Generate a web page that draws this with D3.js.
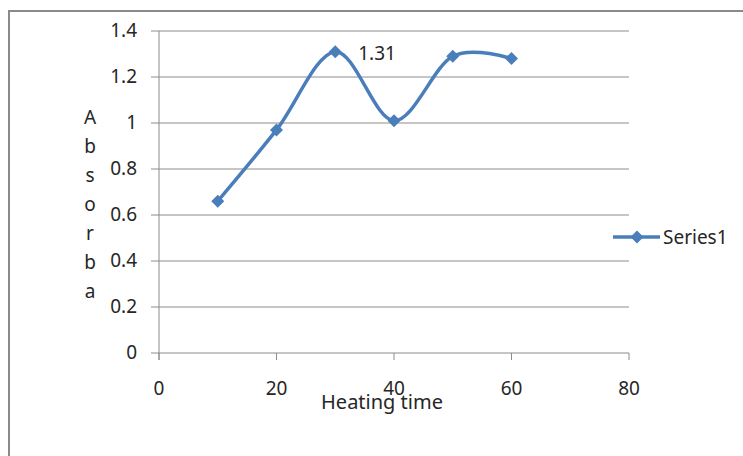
<!DOCTYPE html>
<html>
<head>
<meta charset="utf-8">
<script src="https://cdn.jsdelivr.net/npm/d3@7"></script>
<style>
  body { margin: 0; background: #fff; }
  text { font-family: "Noto Sans", "Liberation Sans", sans-serif; fill: #262626; }
</style>
</head>
<body>
<svg id="chart" width="743" height="456"></svg>
<script>
// Heating time vs absorbance
var xValues = [10, 20, 30, 40, 50, 60];
var yValues = [0.66, 0.97, 1.31, 1.01, 1.29, 1.28];
var xTicks = [0, 20, 40, 60, 80];
var yTicks = [0, 0.2, 0.4, 0.6, 0.8, 1, 1.2, 1.4];
var seriesName = "Series1";
var xTitle = "Heating time";
var yTitle = ["A", "b", "s", "o", "r", "b", "a"];
var labelIndex = 2;

var lineColor = "#4a7ebb";
var fontSize = 19;
var svg = d3.select("#chart");

// outer frame (only left and top visible)
svg.append("path")
    .attr("d", "M9,460 L9,11 L745,11")
    .style("fill", "none")
    .style("stroke", "#8a8a8a")
    .style("stroke-width", 2);

var x = d3.scaleLinear().domain([0, 80]).range([159, 629]);
var y = d3.scaleLinear().domain([0, 1.4]).range([353, 31]);

// gridlines + y labels
var yAxis = svg.append("g");
yAxis.selectAll("line.grid")
    .data(yTicks)
    .enter()
  .append("line")
    .attr("x1", 151)
    .attr("x2", 629)
    .attr("y1", d => y(d))
    .attr("y2", d => y(d))
    .style("stroke", "#8c8c8c")
    .style("stroke-width", 1);
yAxis.selectAll("text")
    .data(yTicks)
    .enter()
  .append("text")
    .attr("x", 137)
    .attr("y", d => y(d) + 6)
    .attr("text-anchor", "end")
    .attr("font-size", fontSize)
    .text(d => d);

// y axis line
svg.append("line")
    .attr("x1", 159).attr("x2", 159)
    .attr("y1", 31).attr("y2", 360)
    .style("stroke", "#8c8c8c");

// x ticks and labels
var xAxis = svg.append("g");
xAxis.selectAll("line")
    .data(xTicks)
    .enter()
  .append("line")
    .attr("x1", d => x(d))
    .attr("x2", d => x(d))
    .attr("y1", 353)
    .attr("y2", 360)
    .style("stroke", "#8c8c8c");
xAxis.selectAll("text")
    .data(xTicks)
    .enter()
  .append("text")
    .attr("x", d => x(d))
    .attr("y", 395)
    .attr("text-anchor", "middle")
    .attr("font-size", fontSize)
    .text(d => d);

// axis titles
svg.append("text")
    .attr("x", 382)
    .attr("y", 409)
    .attr("text-anchor", "middle")
    .attr("font-size", 20)
    .text(xTitle);
svg.selectAll("text.ytitle")
    .data(yTitle)
    .enter()
  .append("text")
    .attr("class", "ytitle")
    .attr("x", 90)
    .attr("y", (d, i) => 124 + i * 29)
    .attr("text-anchor", "middle")
    .attr("font-size", fontSize)
    .text(d => d);

// series
var points = xValues.map((v, i) => [x(v), y(yValues[i])]);
var line = d3.line().curve(d3.curveCatmullRom.alpha(0));
svg.append("path")
    .attr("d", line(points))
    .style("fill", "none")
    .style("stroke", lineColor)
    .style("stroke-width", 3.5);

var diamond = d3.symbol().type(d3.symbolSquare).size(85);
svg.selectAll("path.marker")
    .data(points)
    .enter()
  .append("path")
    .attr("class", "marker")
    .attr("transform", d => "translate(" + d[0] + "," + d[1] + ") rotate(45)")
    .attr("d", diamond)
    .style("fill", lineColor);

// data label
svg.append("text")
    .attr("x", points[labelIndex][0] + 23)
    .attr("y", points[labelIndex][1] + 8)
    .attr("font-size", fontSize)
    .text(yValues[labelIndex]);

// legend
var legend = svg.append("g").attr("transform", "translate(613,237)");
legend.append("line")
    .attr("x1", 0).attr("x2", 47)
    .style("stroke", lineColor)
    .style("stroke-width", 3.5);
legend.append("path")
    .attr("transform", "translate(24,0) rotate(45)")
    .attr("d", diamond)
    .style("fill", lineColor);
legend.append("text")
    .attr("x", 50)
    .attr("y", 7)
    .attr("font-size", fontSize)
    .text(seriesName);
</script>
</body>
</html>
